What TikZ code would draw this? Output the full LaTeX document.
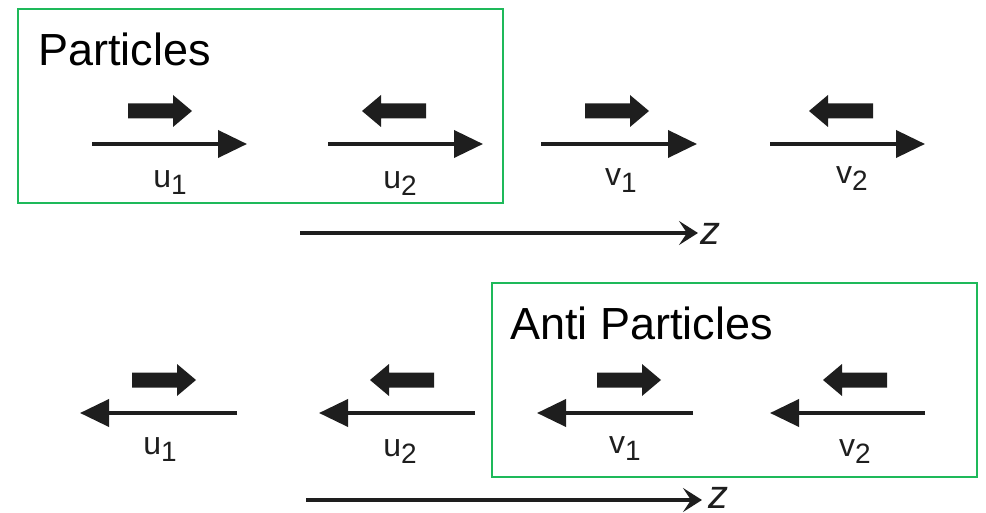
\documentclass[tikz,border=0pt]{standalone}
\usepackage{fontspec}
\setmainfont{Liberation Sans}
\usetikzlibrary{arrows.meta}
\definecolor{boxgreen}{RGB}{30,185,90}
\definecolor{ink}{RGB}{30,30,30}
\newcommand\lbl[2]{#1\raisebox{-7pt}{\fontsize{28}{28}\selectfont #2}}
\tikzset{
  spinarrow/.style={ink, line width=3.8pt, -{Triangle[length=29pt,width=27pt]}},
  zaxis/.style={ink, line width=3.5pt, -{Stealth[length=19pt,width=24pt,inset=8pt]}},
  frame/.style={draw=boxgreen, line width=2pt, minimum width=485pt, minimum height=194pt, inner sep=0pt},
  lab/.style={ink, font=\fontsize{32}{32}\selectfont, anchor=base, inner sep=0pt},
  title/.style={font=\fontsize{45}{45}\selectfont, anchor=base west, inner sep=0pt},
  zlab/.style={ink, font=\fontsize{40}{40}\selectfont\itshape, anchor=base west, inner sep=0pt, text depth=0pt},
  pics/fatR/.style={code={\fill[ink] (-32,-7.5) -- (13,-7.5) -- (13,-16) -- (32,0) -- (13,16) -- (13,7.5) -- (-32,7.5) -- cycle;}},
  pics/fatL/.style={code={\fill[ink] (32,-7.5) -- (-13,-7.5) -- (-13,-16) -- (-32,0) -- (-13,16) -- (-13,7.5) -- (32,7.5) -- cycle;}}
}
\begin{document}
\begin{tikzpicture}[x=1pt,y=-1pt]
\useasboundingbox (0,0) rectangle (986,513);
% boxes
\node[frame] (pbox) at (260.5,106) {};
\node[frame] (abox) at (734.5,380) {};
\node[title] (ptitle) at (38,66) {Particles};
\node[title] (atitle) at (510,340) {Anti Particles};
% row 1 thin arrows
\coordinate (a1s) at (92,144);  \coordinate (a1e) at (247,144);
\coordinate (a2s) at (328,144); \coordinate (a2e) at (483,144);
\coordinate (a3s) at (541,144); \coordinate (a3e) at (697,144);
\coordinate (a4s) at (770,144); \coordinate (a4e) at (925,144);
\draw[spinarrow] (a1s) -- (a1e);
\draw[spinarrow] (a2s) -- (a2e);
\draw[spinarrow] (a3s) -- (a3e);
\draw[spinarrow] (a4s) -- (a4e);
% row 1 fat arrows
\pic at (160,111) {fatR};
\pic at (394,111) {fatL};
\pic at (617,111) {fatR};
\pic at (841,111) {fatL};
% row 1 labels
\node[lab] (l1) at (170,188) {\lbl{u}{1}};
\node[lab] (l2) at (400,189) {\lbl{u}{2}};
\node[lab] (l3) at (621,186) {\lbl{v}{1}};
\node[lab] (l4) at (852,184) {\lbl{v}{2}};
% row 1 z axis
\coordinate (z1s) at (300,233); \coordinate (z1e) at (698,233);
\draw[zaxis] (z1s) -- (z1e);
\node[zlab] (z1) at (700,245) {z};
% row 2 thin arrows
\coordinate (b1s) at (237,413); \coordinate (b1e) at (80,413);
\coordinate (b2s) at (475,413); \coordinate (b2e) at (319,413);
\coordinate (b3s) at (693,413); \coordinate (b3e) at (537,413);
\coordinate (b4s) at (925,413); \coordinate (b4e) at (770,413);
\draw[spinarrow] (b1s) -- (b1e);
\draw[spinarrow] (b2s) -- (b2e);
\draw[spinarrow] (b3s) -- (b3e);
\draw[spinarrow] (b4s) -- (b4e);
% row 2 fat arrows
\pic at (164,380) {fatR};
\pic at (402,380) {fatL};
\pic at (629,380) {fatR};
\pic at (855,380) {fatL};
% row 2 labels
\node[lab] (m1) at (160,454) {\lbl{u}{1}};
\node[lab] (m2) at (400,456) {\lbl{u}{2}};
\node[lab] (m3) at (625,453) {\lbl{v}{1}};
\node[lab] (m4) at (855,456) {\lbl{v}{2}};
% row 2 z axis
\coordinate (z2s) at (306,500); \coordinate (z2e) at (702,500);
\draw[zaxis, line width=4.2pt] (z2s) -- (z2e);
\node[zlab] (z2) at (708,508) {z};
\end{tikzpicture}
\end{document}
